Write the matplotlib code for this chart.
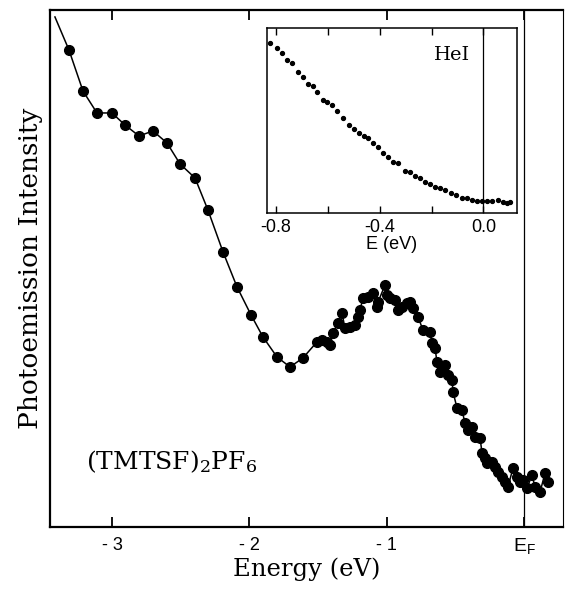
import matplotlib
matplotlib.use("Agg")
from matplotlib import pyplot as plt
from matplotlib.ticker import FixedLocator, NullLocator

# main spectrum: binding energy (eV) and photoemission intensity (arb. units)
energy = [-3.416, -3.314, -3.212, -3.110, -3.001, -2.906, -2.804, -2.702, -2.600,
          -2.505, -2.396, -2.302, -2.192, -2.090, -1.988, -1.901, -1.799, -1.704,
          -1.610, -1.508, -1.471, -1.435, -1.413, -1.391, -1.355, -1.326, -1.304,
          -1.267, -1.231, -1.209, -1.194, -1.173, -1.136, -1.100, -1.071, -1.063,
          -1.012, -0.998, -0.976, -0.940, -0.918, -0.889, -0.852, -0.830, -0.808,
          -0.772, -0.736, -0.685, -0.670, -0.648, -0.634, -0.612, -0.597, -0.575,
          -0.554, -0.524, -0.517, -0.488, -0.452, -0.430, -0.408, -0.379, -0.357,
          -0.320, -0.306, -0.284, -0.269, -0.233, -0.211, -0.189, -0.160, -0.138,
          -0.117, -0.080, -0.051, -0.029, -0.007, 0.022, 0.058, 0.080, 0.117,
          0.153, 0.175]
intensity = [510, 477, 436, 414, 414, 402, 391, 396, 384, 363, 349, 317, 275, 240,
             212, 190, 170, 160, 169, 185, 187, 185, 182, 194, 204, 214, 199, 200,
             202, 210, 217, 229, 230, 234, 220, 225, 242, 232, 229, 227, 217, 220,
             224, 225, 219, 210, 197, 195, 184, 179, 165, 155, 160, 162, 152, 147,
             135, 119, 117, 104, 97, 100, 90, 89, 74, 69, 64, 65, 60, 55, 50, 45,
             40, 59, 50, 45, 47, 39, 52, 40, 35, 54, 45]

# inset: HeI spectrum near the Fermi level
e_hei = [-0.823, -0.796, -0.777, -0.758, -0.738, -0.715, -0.696, -0.676, -0.657,
         -0.642, -0.619, -0.603, -0.584, -0.564, -0.541, -0.518, -0.499, -0.480,
         -0.460, -0.445, -0.425, -0.406, -0.387, -0.368, -0.348, -0.329, -0.302,
         -0.283, -0.263, -0.244, -0.225, -0.205, -0.186, -0.167, -0.147, -0.124,
         -0.105, -0.082, -0.063, -0.043, -0.024, -0.005, 0.015, 0.034, 0.057,
         0.076, 0.092, 0.103]
i_hei = [170, 165, 160, 153, 150, 141, 136, 129, 127, 121, 113, 111, 108, 102, 95,
         88, 84, 80, 77, 75, 70, 66, 60, 56, 51, 50, 42, 41, 37, 35, 31, 29, 26,
         25, 23, 20, 18, 15, 15, 13, 12, 12, 12, 12, 13, 11, 10, 11]

main_ticks = [-3, -2, -1, 0]
main_ticklabels = ['- 3', '- 2', '- 1', r'E$_\mathregular{F}$']
inset_ticks = [-0.8, -0.6, -0.4, -0.2, 0.0]
inset_ticklabels = ['-0.8', '', '-0.4', '', '0.0']

serif = ['DejaVu Serif']
sans = ['Liberation Sans', 'DejaVu Sans']
plt.rcParams['mathtext.fontset'] = 'custom'
plt.rcParams['mathtext.rm'] = 'Liberation Sans'

fig = plt.figure(figsize=(5.65, 5.89), dpi=100)
ax = fig.add_axes([0.0885, 0.1053, 0.908, 0.8778])

ax.plot(energy, intensity, color='black', lw=1.1, zorder=2)
ax.plot(energy[1:], intensity[1:], 'o', color='black', ms=7, zorder=3)
ax.axvline(0, color='black', lw=0.9)

ax.set_xlim(-3.452, 0.284)
ax.set_ylim(0, 517)
ax.xaxis.set_major_locator(FixedLocator(main_ticks))
ax.set_xticklabels(main_ticklabels, family=sans, fontsize=13)
ax.get_xticklabels()[-1].set_fontsize(14)
ax.yaxis.set_major_locator(NullLocator())
ax.tick_params(axis='x', direction='in', length=7, width=1.3, top=True, pad=7)
for s in ['left', 'bottom', 'top']:
    ax.spines[s].set_linewidth(1.6)
ax.spines['right'].set_linewidth(0.8)

ax.set_xlabel('Energy (eV)', family=serif, fontsize=17.5, labelpad=0)
ax.set_ylabel('Photoemission Intensity', family=serif, fontsize=19, labelpad=5)
ax.text(-3.19, 58, r'(TMTSF)$_2$PF$_6$', family=serif, fontsize=18,
        math_fontfamily='dejavuserif')

ins = fig.add_axes([0.4726, 0.6384, 0.4425, 0.3141])
ins.plot(e_hei, i_hei, 'o', color='black', ms=2.8)
ins.axvline(0, color='black', lw=0.9)
ins.set_xlim(-0.835, 0.13)
ins.set_ylim(0, 185)
ins.xaxis.set_major_locator(FixedLocator(inset_ticks))
ins.set_xticklabels(inset_ticklabels, family=sans, fontsize=13)
ins.yaxis.set_major_locator(NullLocator())
ins.tick_params(axis='x', direction='in', length=5, width=1.0, top=True, pad=4)
for s in ins.spines.values():
    s.set_linewidth(1.1)
ins.set_xlabel('E (eV)', family=sans, fontsize=13, labelpad=0)
ins.text(-0.19, 153, 'HeI', family=serif, fontsize=14)

fig.savefig('out.png', dpi=100)
